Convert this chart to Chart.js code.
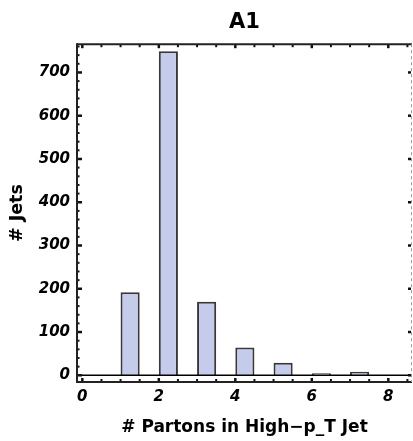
<!DOCTYPE html>
<html><head><meta charset="utf-8">
<script src="https://cdn.jsdelivr.net/npm/chart.js@4/dist/chart.umd.min.js"></script>
<style>html,body{margin:0;padding:0;background:#fff}</style>
</head><body>
<canvas id="c" width="413" height="441"></canvas>
<script>
const binStarts = [1, 2, 3, 4, 5, 6, 7];
const jetCounts = [192, 749, 170, 64, 29, 5, 8];
const xTickValues = [0, 2, 4, 6, 8];
const yTickValues = [0, 100, 200, 300, 400, 500, 600, 700];
const binWidth = 0.5;
const titleText = 'A1';
const xTitle = '# Partons in High\u2212p_T Jet';
const yTitle = '# Jets';

const FONT = 'DejaVu Sans';

const framePlugin = {
  id: 'frame',
  afterDatasetsDraw(chart) {
    const {ctx, chartArea: {left, right, top, bottom}, scales: {x, y}} = chart;
    ctx.save();
    const seg = (x1, y1, x2, y2) => { ctx.beginPath(); ctx.moveTo(x1, y1); ctx.lineTo(x2, y2); ctx.stroke(); };
    // zero line
    const y0 = y.getPixelForValue(0);
    ctx.strokeStyle = '#000'; ctx.lineWidth = 1.5;
    seg(left, y0, right, y0);
    // ticks
    ctx.strokeStyle = '#111';
    for (let v = 0; v <= 8.5 + 1e-9; v += 0.5) {
      const px = x.getPixelForValue(v);
      if (px < left || px > right) continue;
      const major = xTickValues.includes(v);
      ctx.lineWidth = major ? 2.5 : 2;
      const len = major ? 4 : 3;
      seg(px, top, px, top + len);
      seg(px, bottom, px, bottom - len);
    }
    for (let v = 0; v <= 760; v += 20) {
      const py = y.getPixelForValue(v);
      const major = yTickValues.includes(v);
      ctx.lineWidth = major ? 2.5 : 2;
      seg(left, py, left + (major ? 5 : 2.5), py);
      if (major) seg(right - 1, py, right - 4, py);
    }
    // frame
    ctx.strokeStyle = '#222'; ctx.lineWidth = 2;
    seg(left, top, right, top);
    seg(left, top - 1, left, bottom + 1);
    seg(left, bottom, right, bottom);
    ctx.strokeStyle = '#999'; ctx.lineWidth = 1; ctx.setLineDash([3, 3]);
    seg(right - 0.5, top, right - 0.5, bottom);
    ctx.restore();
  }
};

new Chart(document.getElementById('c'), {
  type: 'bar',
  data: {
    datasets: [{
      data: binStarts.map((b, i) => ({x: b + binWidth / 2, y: jetCounts[i]})),
      backgroundColor: '#c5cbea',
      borderColor: '#383838',
      borderWidth: 2,
      barPercentage: 0.5,
      categoryPercentage: 1
    }]
  },
  options: {
    responsive: false,
    animation: false,
    devicePixelRatio: 1,
    layout: {padding: {left: 0, right: 1, top: 0, bottom: 0}},
    plugins: {
      legend: {display: false},
      tooltip: {enabled: false},
      title: {
        display: true, text: titleText, fullSize: false, color: '#000',
        font: {family: FONT, size: 21, weight: 'bold'},
        padding: {top: 10, bottom: 9}
      }
    },
    scales: {
      x: {
        type: 'linear', min: -0.139, max: 8.62, offset: false,
        grid: {display: false, drawTicks: false},
        border: {display: false},
        afterBuildTicks: s => { s.ticks = xTickValues.map(v => ({value: v})); },
        afterFit: s => { s.height = 59; },
        ticks: {color: '#000', padding: 6.5, maxRotation: 0, autoSkip: false,
          font: {family: FONT, size: 15, weight: 'bold', style: 'italic'}},
        title: {display: true, text: xTitle, color: '#000',
          font: {family: FONT, size: 17, weight: 'bold'}, padding: {top: 0, bottom: 3}}
      },
      y: {
        type: 'linear', min: -15.5, max: 765.3,
        grid: {display: false, drawTicks: false},
        border: {display: false},
        afterBuildTicks: s => { s.ticks = yTickValues.map(v => ({value: v})); },
        afterFit: s => { s.width = 77; },
        ticks: {color: '#000', padding: 7,
          font: {family: FONT, size: 15, weight: 'bold', style: 'italic'}},
        title: {display: true, text: yTitle, color: '#000',
          font: {family: FONT, size: 17.5, weight: 'bold'}, padding: {top: 6.5, bottom: 0}}
      }
    }
  },
  plugins: [framePlugin]
});
</script>
</body></html>
